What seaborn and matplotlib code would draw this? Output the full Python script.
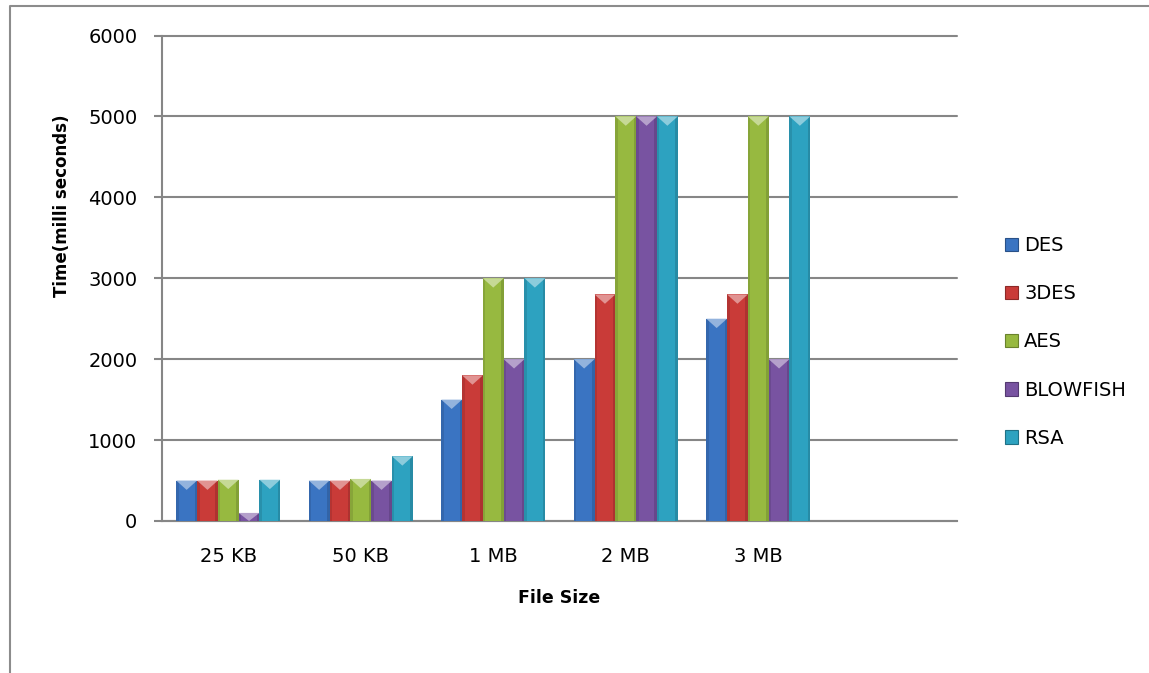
import numpy as np
import pandas as pd
import matplotlib
matplotlib.use("Agg")
import matplotlib.pyplot as plt
import seaborn as sns
from matplotlib.patches import Polygon, Patch
from matplotlib.lines import Line2D
from matplotlib.colors import to_rgb

# Encryption time per file size and algorithm (milliseconds)
file_sizes = ["25 KB", "50 KB", "1 MB", "2 MB", "3 MB"]
algorithms = ["DES", "3DES", "AES", "BLOWFISH", "RSA"]
des = [500, 500, 1500, 2000, 2500]
tdes = [500, 500, 1800, 2800, 2800]
aes = [510, 520, 3000, 5000, 5000]
blowfish = [100, 500, 2000, 5000, 2000]
rsa = [510, 800, 3000, 5000, 5000]
y_ticks = [0, 1000, 2000, 3000, 4000, 5000, 6000]

colors = ["#3a74c2", "#c93b38", "#97b940", "#7853a1", "#2da2c0"]

series = {"DES": des, "3DES": tdes, "AES": aes, "BLOWFISH": blowfish, "RSA": rsa}
rows = []
for algo, vals in series.items():
    for size, v in zip(file_sizes, vals):
        rows.append({"File Size": size, "Algorithm": algo, "Time": v})
df = pd.DataFrame(rows)

sns.set_theme(style="white")
plt.rcParams["font.family"] = ["DejaVu Sans"]
plt.rcParams["text.color"] = "black"

W, H = 1149, 673
fig = plt.figure(figsize=(W / 100, H / 100), dpi=100)
ax = fig.add_axes([162 / W, 1 - 521 / H, (957 - 162) / W, (521 - 35.5) / H])

sns.barplot(data=df, x="File Size", y="Time", hue="Algorithm",
            order=file_sizes, hue_order=algorithms, palette=colors,
            saturation=1, width=0.785, gap=0, legend=False, ax=ax,
            edgecolor="none", zorder=3)

# six category slots, the last one left empty
ax.set_xlim(-0.5, 5.5)
ax.set_ylim(0, 6000)
ax.set_yticks(y_ticks)
ax.yaxis.grid(True, color="#868686", linewidth=1.5)
ax.set_axisbelow(True)
for gl in ax.get_ygridlines():
    gl.set_clip_on(False)

for side in ["top", "right"]:
    ax.spines[side].set_visible(False)
for side in ["left", "bottom"]:
    ax.spines[side].set_color("#868686")
    ax.spines[side].set_linewidth(1.5)

ax.tick_params(axis="y", length=5.8, width=1.5, color="#868686", pad=12,
               labelsize=14, labelcolor="black", left=True)
ax.tick_params(axis="x", length=0, pad=19, labelsize=14, labelcolor="black")

ax.set_ylabel("Time(milli seconds)", fontsize=12, fontweight="bold",
              va="center", ha="center", color="black")
ax.yaxis.set_label_coords((62 - 162) / 795, (521 - 206) / 485.5)
ax.set_xlabel("File Size", fontsize=12.5, fontweight="bold", va="center", color="black")
ax.xaxis.set_label_coords((559 - 162) / 795, -(598 - 521) / 485.5)

# Bevelled look: darker side edges plus a light chevron on each bar top
fig.canvas.draw()
px_per_unit = ax.bbox.height / 6000
unit_per_px_x = 6.0 / ax.bbox.width
for patch, col in zip(ax.patches, [c for c in colors for _ in file_sizes]):
    x0, y0 = patch.get_xy()
    w, h = patch.get_width(), patch.get_height()
    if h <= 0:
        continue
    base = np.array(to_rgb(col))
    dark = base * 0.7
    light = base + (1 - base) * 0.45
    edge_w = w * 0.12
    ax.add_patch(Polygon([[x0, y0], [x0 + edge_w, y0], [x0 + edge_w, y0 + h], [x0, y0 + h]],
                         closed=True, facecolor=dark, alpha=0.35, edgecolor="none", zorder=4))
    ax.add_patch(Polygon([[x0 + w - edge_w, y0], [x0 + w, y0], [x0 + w, y0 + h], [x0 + w - edge_w, y0 + h]],
                         closed=True, facecolor=dark, alpha=0.45, edgecolor="none", zorder=4))
    depth_px = (w / unit_per_px_x) * 0.45
    depth = min(depth_px / px_per_unit, h)
    ax.add_patch(Polygon([[x0, y0 + h], [x0 + w, y0 + h], [x0 + w / 2, y0 + h - depth]],
                         closed=True, facecolor=light, edgecolor="none", zorder=5))

# Legend with square swatches
handles = [Patch(facecolor=c, edgecolor=np.array(to_rgb(c)) * 0.7, linewidth=0.8, label=a)
           for a, c in zip(algorithms, colors)]
leg = fig.legend(handles=handles, loc="center left", bbox_to_anchor=(995 / W, 1 - 342 / H),
                 frameon=False, fontsize=14, handlelength=0.7, handleheight=0.7,
                 handletextpad=0.3, labelspacing=1.5, borderpad=0)
for t in leg.get_texts():
    t.set_color("black")

# Chart frame on the left and top edges
fig.add_artist(Line2D([10 / W, 10 / W, 1], [0, 1 - 6 / H, 1 - 6 / H],
                      transform=fig.transFigure, color="#8c8c8c", linewidth=1.5))

fig.savefig("out.png", dpi=100, facecolor="white")
